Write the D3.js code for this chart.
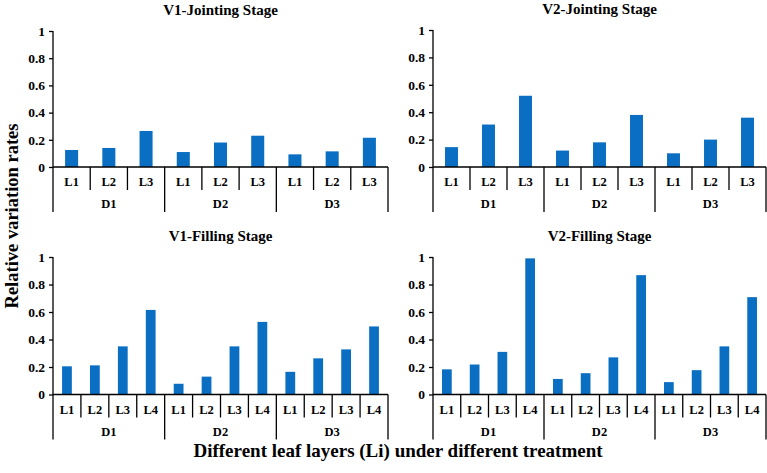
<!DOCTYPE html>
<html>
<head>
<meta charset="utf-8">
<script src="https://cdn.jsdelivr.net/npm/d3@7"></script>
<style>
  body {
    margin: 0;
    background: #fff;
  }
  svg text {
    font-family: "Liberation Serif", "Times New Roman", serif;
    font-weight: bold;
    fill: #000;
  }
</style>
</head>
<body>
<svg id="chart" width="767" height="473"></svg>
<script>
// treatments and leaf layers
const groups = ['D1', 'D2', 'D3'];
const layers3 = ['L1', 'L2', 'L3'];
const layers4 = ['L1', 'L2', 'L3', 'L4'];

// relative variation rates, per treatment then per layer
const v1Jointing = [0.125, 0.14, 0.265, 0.11, 0.18, 0.23, 0.093, 0.115, 0.215];
const v2Jointing = [0.145, 0.31, 0.52, 0.12, 0.18, 0.38, 0.10, 0.20, 0.36];
const v1Filling = [0.205, 0.212, 0.35, 0.615, 0.078, 0.13, 0.35, 0.528, 0.165, 0.263, 0.328, 0.495];
const v2Filling = [0.183, 0.218, 0.31, 0.99, 0.113, 0.155, 0.27, 0.868, 0.09, 0.177, 0.35, 0.708];

const yTicks = [0, 0.2, 0.4, 0.6, 0.8, 1];
const titles = ['V1-Jointing Stage', 'V2-Jointing Stage', 'V1-Filling Stage', 'V2-Filling Stage'];

const svg = d3.select('#chart');

const panels = [
  {title: titles[0], layers: layers3, values: v1Jointing, x0: 53, x1: 388, top: 31, zero: 167},
  {title: titles[1], layers: layers3, values: v2Jointing, x0: 433, x1: 766, top: 30, zero: 167},
  {title: titles[2], layers: layers4, values: v1Filling, x0: 53, x1: 388, top: 257, zero: 394.5},
  {title: titles[3], layers: layers4, values: v2Filling, x0: 433, x1: 766, top: 257, zero: 394.5},
];

const drawPanel = (p) => {
  const g = svg.append('g');
  // one entry per bar: treatment + layer
  const cats = groups.flatMap(d => p.layers.map(l => ({group: d, layer: l, key: `${d}-${l}`})));
  cats.forEach((c, i) => c.value = p.values[i]);

  const x = d3.scaleBand()
    .domain(cats.map(c => c.key))
    .range([p.x0, p.x1])
    .paddingInner(0.65)
    .paddingOuter(0.325)
    ;
  const y = d3.scaleLinear()
    .domain([0, 1])
    .range([p.zero, p.top])
    ;
  const step = x.step();
  const edge = i => p.x0 + i * step;

  // y axis
  const yAxis = d3.axisLeft(y)
    .tickValues(yTicks)
    .tickFormat(d3.format('~g'))
    .tickSize(4)
    .tickPadding(4)
    ;
  g.append('g')
    .attr('transform', `translate(${p.x0},0)`)
    .call(yAxis)
    .call(s => s.select('.domain').remove())
    .call(s => s.selectAll('line').attr('stroke', '#000').attr('stroke-width', 1.3))
    .call(s => s.selectAll('text')
      .attr('font-size', 13.5)
      .attr('font-family', '"Liberation Serif", serif')
      .attr('font-weight', 'bold'))
    ;

  // bars
  g.selectAll('rect')
    .data(cats)
    .enter().append('rect')
      .attr('x', d => x(d.key))
      .attr('width', x.bandwidth())
      .attr('y', d => y(d.value))
      .attr('height', d => y(0) - y(d.value))
      .attr('fill', '#0a6fc2')
    ;

  const lines = g.append('g')
    .attr('stroke', '#000')
    .attr('stroke-width', 1.3)
    ;
  // vertical axis line (runs down into the group row)
  lines.append('line')
    .attr('x1', p.x0).attr('x2', p.x0)
    .attr('y1', y(1)).attr('y2', p.zero + 45)
    ;
  // horizontal axis line
  lines.append('line')
    .attr('x1', p.x0).attr('x2', p.x1)
    .attr('y1', p.zero).attr('y2', p.zero)
    ;
  // separators: short between layers, long between treatments
  d3.range(1, cats.length + 1).forEach(i => {
    const long = i % p.layers.length === 0;
    lines.append('line')
      .attr('x1', edge(i)).attr('x2', edge(i))
      .attr('y1', p.zero).attr('y2', p.zero + (long ? 45 : 23))
      ;
  });

  // layer labels
  g.selectAll('.layer')
    .data(cats)
    .enter().append('text')
      .attr('class', 'layer')
      .attr('x', d => x(d.key) + x.bandwidth() / 2)
      .attr('y', p.zero + 19)
      .attr('text-anchor', 'middle')
      .attr('font-size', 12.5)
      .text(d => d.layer)
    ;
  // treatment labels
  g.selectAll('.group')
    .data(groups)
    .enter().append('text')
      .attr('class', 'group')
      .attr('x', (d, i) => edge(i * p.layers.length) + step * p.layers.length / 2)
      .attr('y', p.zero + 41)
      .attr('text-anchor', 'middle')
      .attr('font-size', 12.5)
      .text(d => d)
    ;
  // panel title
  g.append('text')
    .attr('x', (p.x0 + p.x1) / 2)
    .attr('y', p.top - 16)
    .attr('text-anchor', 'middle')
    .attr('font-size', 15)
    .text(p.title)
    ;
};

panels.forEach(drawPanel);

// shared axis titles
svg.append('text')
  .attr('transform', 'translate(18,216) rotate(-90)')
  .attr('text-anchor', 'middle')
  .attr('font-size', 18.5)
  .text('Relative variation rates')
  ;
svg.append('text')
  .attr('x', 398)
  .attr('y', 457)
  .attr('text-anchor', 'middle')
  .attr('font-size', 19)
  .text('Different leaf layers (Li) under different treatment')
  ;
</script>
</body>
</html>
